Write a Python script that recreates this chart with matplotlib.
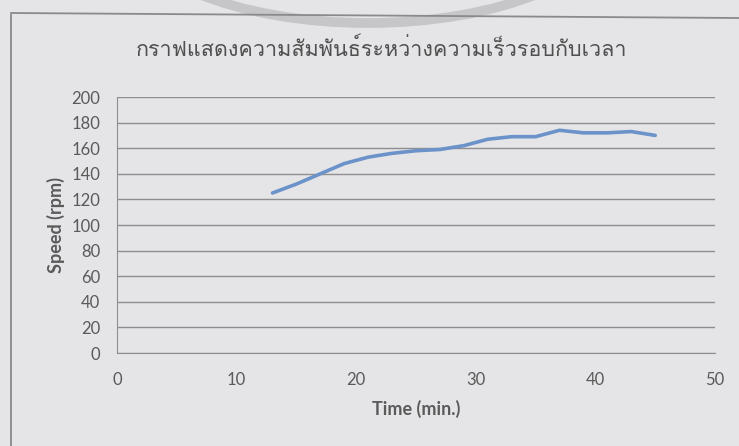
import matplotlib
matplotlib.use("Agg")
import matplotlib.pyplot as plt
from matplotlib import font_manager
from matplotlib.ft2font import FT2Font
from matplotlib.patches import Arc

# data (time every 2 min)
time_min = [13, 15, 17, 19, 21, 23, 25, 27, 29, 31, 33, 35, 37, 39, 41, 43, 45]
speed_rpm = [125, 132, 140, 148, 153, 156, 158, 159, 162, 167, 169, 169, 174, 172, 172, 173, 170]
x_ticks = [0, 10, 20, 30, 40, 50]
y_ticks = list(range(0, 201, 20))
title_text = "กราฟแสดงความสัมพันธ์ระหว่างความเร็วรอบกับเวลา"

# look for any installed font that has Thai glyphs
thai_family = None
for fe in font_manager.fontManager.ttflist:
    try:
        if 0x0E01 in FT2Font(fe.fname).get_charmap():
            thai_family = fe.name
            break
    except Exception:
        pass
families = ["Lato", "DejaVu Sans"]
if thai_family:
    families = [thai_family] + families
plt.rcParams["font.family"] = ["Lato", "DejaVu Sans"]

bg = "#e5e5e7"
txt = "#5a5a5a"

fig = plt.figure(figsize=(7.39, 4.46), dpi=100, facecolor=bg)

# overlay in pixel coords for the photo bits (chart border, shadow arc)
deco = fig.add_axes([0, 0, 1, 1], zorder=0)
deco.set_xlim(0, 739)
deco.set_ylim(446, 0)
deco.axis("off")
deco.set_facecolor(bg)
deco.plot([11, 11], [15, 446], color="#8a8a8a", lw=1.3)
deco.plot([11, 739], [13, 18], color="#8a8a8a", lw=1.3)
deco.add_patch(Arc((368, -80), 486, 206, theta1=0, theta2=180,
                   color="#c6c6c8", lw=7))

ax = fig.add_axes([117 / 739, 1 - 353 / 446, 598 / 739, 256 / 446], zorder=1)
ax.set_facecolor("none")
ax.plot(time_min, speed_rpm, color="#6c93c9", lw=2.6, solid_capstyle="round")

ax.set_xlim(0, 50)
ax.set_ylim(0, 200)
ax.set_xticks(x_ticks)
ax.set_yticks(y_ticks)
ax.tick_params(length=0, labelsize=12, labelcolor=txt)
ax.tick_params(axis="y", pad=12)
ax.tick_params(axis="x", pad=14)
ax.yaxis.grid(True, color="#8e8e8e", lw=1)
ax.set_axisbelow(True)
for s in ["top", "right"]:
    ax.spines[s].set_visible(False)
for s in ["left", "bottom"]:
    ax.spines[s].set_color("#8e8e8e")

ax.set_xlabel("Time (min.)", fontsize=13, fontweight="bold", color=txt, labelpad=8)
ax.set_ylabel("Speed (rpm)", fontsize=13, fontweight="bold", color=txt, labelpad=5)

fig.text(381 / 739, 1 - 50 / 446, title_text, ha="center", va="center",
         fontsize=15.5, color="#505050", family=families)

fig.savefig("out.png", dpi=100, facecolor=bg)
